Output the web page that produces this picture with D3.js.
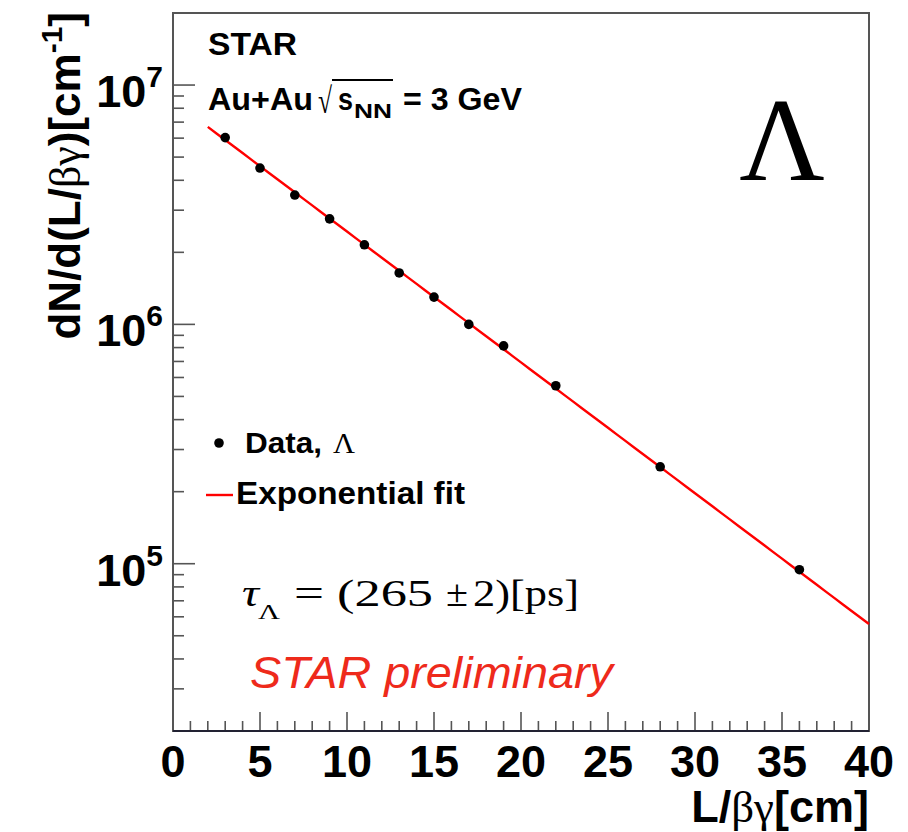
<!DOCTYPE html>
<html>
<head>
<meta charset="utf-8">
<script src="https://cdn.jsdelivr.net/npm/d3@7"></script>
<style>
  html, body { margin: 0; padding: 0; background: #fff; }
  svg { display: block; }
  .sans { font-family: "Liberation Sans", Arial, Helvetica, sans-serif; }
  .serif { font-family: "Liberation Serif", "Times New Roman", serif; }
</style>
</head>
<body>
<script>
// Decay-length distribution of Lambda, Au+Au at sqrt(s_NN) = 3 GeV
const decayLength = [3, 5, 7, 9, 11, 13, 15, 17, 19, 22, 28, 36];        // L/βγ [cm]
const counts = [6.03e6, 4.50e6, 3.47e6, 2.76e6, 2.15e6, 1.64e6,
                1.30e6, 1.00e6, 8.13e5, 5.54e5, 2.54e5, 9.44e4];      // dN/d(L/βγ)
const xTickValues = [0, 5, 10, 15, 20, 25, 30, 35, 40];
const yDecades = [5, 6, 7];

// Exponential fit: N = A exp(-L / (c τ)), τ = 265 ps
const tauPs = 265;
const tauErrPs = 2;
const cCmPerPs = 0.0299792;
const fitAmplitude = 8.6e6;
const fitRange = [2, 40];

const W = 908, H = 832;
const margin = { left: 173, right: 39, top: 13, bottom: 101 };
const x = d3.scaleLinear().domain([0, 40]).range([margin.left, W - margin.right]);
const y = d3.scaleLog().domain([2e4, 2e7]).range([H - margin.bottom, margin.top]);

const svg = d3.select("body").append("svg").attr("width", W).attr("height", H);

// helper: text piece fitted to a given advance width
function piece(parent, px, py, size, str, width, cls, extra) {
  const t = parent.append("text").attr("class", cls || "sans")
    .attr("x", px).attr("y", py).attr("font-size", size).text(str);
  if (width) t.attr("textLength", width).attr("lengthAdjust", "spacingAndGlyphs");
  if (extra) extra(t);
  return t;
}

// x ticks (minor every 1 cm, major every 5 cm)
const xb = H - margin.bottom;
const xMinor = d3.range(0, 41, 1);
svg.append("g").selectAll("line").data(xMinor).join("line")
  .attr("x1", d => x(d)).attr("x2", d => x(d))
  .attr("y1", xb).attr("y2", d => xb - (d % 5 === 0 ? 19 : 10))
  .attr("stroke", "#555").attr("stroke-width", 1.6);

svg.append("g").selectAll("text").data(xTickValues).join("text")
  .attr("class", "sans")
  .attr("x", d => x(d)).attr("y", 777)
  .attr("text-anchor", "middle")
  .attr("font-size", 45).attr("font-weight", "bold")
  .text(d => d);

// y ticks (log scale, minor at 2..9 of each decade)
const yMinor = [];
[4, 5, 6, 7].forEach(e => { for (let m = 1; m <= 9; m++) { const v = m * Math.pow(10, e); if (v >= 2e4 && v <= 2e7) yMinor.push({ v, major: m === 1 }); } });
const yl = margin.left;
svg.append("g").selectAll("line").data(yMinor).join("line")
  .attr("x1", yl).attr("x2", d => yl + (d.major ? 22 : 11))
  .attr("y1", d => y(d.v)).attr("y2", d => y(d.v))
  .attr("stroke", "#555").attr("stroke-width", 1.6);

const yLab = svg.append("g").selectAll("text").data(yDecades).join("text")
  .attr("class", "sans")
  .attr("x", 163).attr("y", d => y(Math.pow(10, d)) + 22)
  .attr("text-anchor", "end")
  .attr("font-weight", "bold");
yLab.append("tspan").attr("font-size", 45).text("10");
yLab.append("tspan").attr("font-size", 30).attr("dy", -20).text(d => d);

// frame
svg.append("rect")
  .attr("x", margin.left).attr("y", margin.top)
  .attr("width", W - margin.left - margin.right)
  .attr("height", H - margin.top - margin.bottom)
  .attr("fill", "none").attr("stroke", "#555").attr("stroke-width", 2);
svg.append("line")
  .attr("x1", margin.left).attr("x2", W - margin.right)
  .attr("y1", xb).attr("y2", xb)
  .attr("stroke", "#222233").attr("stroke-width", 2);

// fit curve
const fitFn = L => fitAmplitude * Math.exp(-L / (cCmPerPs * tauPs));
const fitPts = d3.range(fitRange[0], fitRange[1] + 0.001, 0.5).map(L => [L, fitFn(L)]);
svg.append("path")
  .datum(fitPts)
  .attr("d", d3.line().x(d => x(d[0])).y(d => y(d[1])))
  .attr("fill", "none").attr("stroke", "#ff0000").attr("stroke-width", 2.4);

// data points
svg.append("g").selectAll("circle").data(decayLength).join("circle")
  .attr("cx", d => x(d)).attr("cy", (d, i) => y(counts[i]))
  .attr("r", 4.8).attr("fill", "#000");

// header
const bold = t => t.attr("font-weight", "bold");
piece(svg, 208, 55, 31, "STAR", 89, "sans", bold);
piece(svg, 208, 110, 31, "Au+Au", 105, "sans", bold);
piece(svg, 318, 113, 36, "√", 14, "serif");
svg.append("line").attr("x1", 332).attr("x2", 393).attr("y1", 80).attr("y2", 80)
  .attr("stroke", "#000").attr("stroke-width", 1.8);
piece(svg, 338, 110, 31, "s", 15, "sans", bold);
piece(svg, 354, 118, 21, "NN", 38, "sans", bold);
piece(svg, 403, 110, 31, "= 3 GeV", 119, "sans", bold);

// big Lambda
svg.append("text").attr("class", "serif").attr("x", 782).attr("y", 180)
  .attr("text-anchor", "middle").attr("font-size", 118).text("Λ");

// legend
svg.append("circle").attr("cx", 219).attr("cy", 443).attr("r", 4.8).attr("fill", "#000");
piece(svg, 245, 453, 30, "Data,", 77, "sans", bold);
piece(svg, 333, 453, 30, "Λ", 22, "serif");
svg.append("line").attr("x1", 206).attr("x2", 233).attr("y1", 495).attr("y2", 495)
  .attr("stroke", "#ff0000").attr("stroke-width", 2.4);
piece(svg, 236, 504, 31, "Exponential fit", 229, "sans", bold);

// lifetime result
piece(svg, 242, 606, 38, "τ", 17, "serif", t => t.attr("font-style", "italic"));
piece(svg, 258, 619, 22, "Λ", 22, "serif");
piece(svg, 294, 606, 38, "=", 30, "serif");
piece(svg, 337, 606, 38, `(${tauPs}`, 96, "serif");
piece(svg, 446, 606, 38, "±", 22, "serif");
piece(svg, 473, 606, 38, `${tauErrPs})[ps]`, 106, "serif");

// preliminary label
piece(svg, 250, 688, 44, "STAR preliminary", 363, "sans",
  t => t.attr("font-style", "italic").attr("fill", "#ee2a1b"));

// axis titles
const xt = svg.append("text").attr("class", "sans").attr("x", 869).attr("y", 822)
  .attr("text-anchor", "end").attr("font-size", 45).attr("font-weight", "bold");
xt.append("tspan").text("L/");
xt.append("tspan").attr("class", "serif").attr("font-weight", "normal").text("βγ");
xt.append("tspan").text("[cm]");

const yt = svg.append("text").attr("class", "sans")
  .attr("transform", "translate(80,12) rotate(-90)")
  .attr("text-anchor", "end").attr("font-size", 44).attr("font-weight", "bold");
yt.append("tspan").text("dN/d(L/");
yt.append("tspan").attr("class", "serif").attr("font-weight", "normal").text("βγ");
yt.append("tspan").text(")[cm");
yt.append("tspan").attr("font-size", 30).attr("dy", -18).text("-1");
yt.append("tspan").attr("dy", 18).text("]");
</script>
</body>
</html>
